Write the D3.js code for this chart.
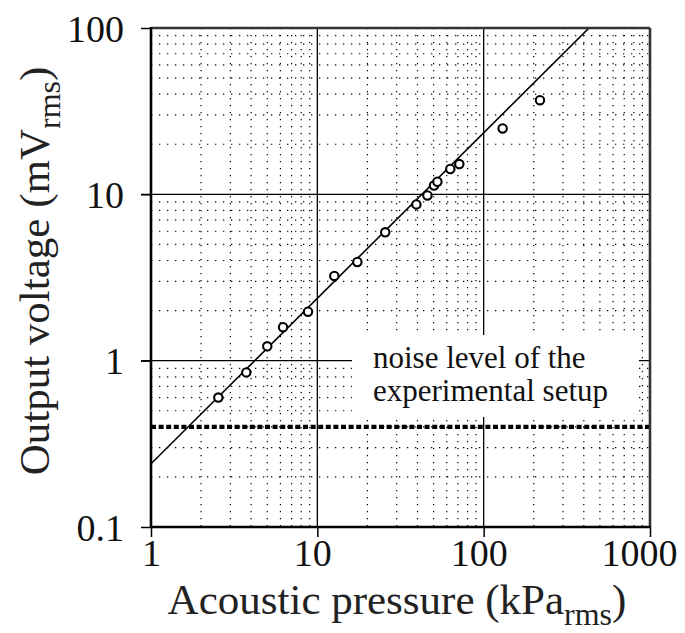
<!DOCTYPE html>
<html>
<head>
<meta charset="utf-8">
<script src="https://cdn.jsdelivr.net/npm/d3@7"></script>
<style>
  html, body { margin: 0; padding: 0; background: #fff; }
  svg { display: block; }
</style>
</head>
<body>
<svg id="chart" width="685" height="633"></svg>
<script>
// ---- data ----
const pressure = [2.54, 3.74, 5.0, 6.22, 8.79, 12.65, 17.4, 25.6, 39.4, 45.9, 50.3, 52.7, 63.0, 71.4, 130, 218];
const voltage  = [0.60, 0.85, 1.22, 1.59, 1.97, 3.23, 3.92, 5.91, 8.7, 9.85, 11.3, 11.9, 14.2, 15.2, 24.9, 36.8];
const fitPressure = [1, 430];
const fitVoltage  = [0.24, 100];
const noiseLevel = 0.4;
const xTickValues = [1, 10, 100, 1000];
const xTickLabels = ["1", "10", "100", "1000"];
const yTickValues = [0.1, 1, 10, 100];
const yTickLabels = ["0.1", "1", "10", "100"];
const noiseText = ["noise level of the", "experimental setup"];

const FONT = '"Liberation Serif"';

// ---- layout ----
const L = 151, R = 650, T = 28, B = 527;
const svg = d3.select("#chart");
const x = d3.scaleLog().domain([1, 1000]).range([L, R]);
const y = d3.scaleLog().domain([0.1, 100]).range([B, T]);

svg.append("defs").append("clipPath").attr("id", "plotclip")
  .append("rect").attr("x", L).attr("y", T).attr("width", R - L).attr("height", B - T);

const isMajor = v => Math.abs(Math.log10(v) - Math.round(Math.log10(v))) < 1e-9;
const xMinor = x.ticks().filter(v => !isMajor(v));
const yMinor = y.ticks().filter(v => !isMajor(v));

const grid = svg.append("g");
// minor dotted grid
grid.selectAll(".xm").data(xMinor).join("line")
  .attr("x1", d => x(d)).attr("x2", d => x(d)).attr("y1", T).attr("y2", B)
  .attr("stroke", "#000").attr("stroke-width", 1.2).attr("stroke-dasharray", "1.3,5.7");
grid.selectAll(".ym").data(yMinor).join("line")
  .attr("y1", d => y(d)).attr("y2", d => y(d)).attr("x1", L).attr("x2", R)
  .attr("stroke", "#000").attr("stroke-width", 1.2).attr("stroke-dasharray", "1.3,6.7");
// major solid grid (inner)
grid.selectAll(".xM").data(xTickValues.slice(1, -1)).join("line")
  .attr("x1", d => x(d)).attr("x2", d => x(d)).attr("y1", T).attr("y2", B)
  .attr("stroke", "#000").attr("stroke-width", 1.3);
grid.selectAll(".yM").data(yTickValues.slice(1, -1)).join("line")
  .attr("y1", d => y(d)).attr("y2", d => y(d)).attr("x1", L - 10).attr("x2", R)
  .attr("stroke", "#000").attr("stroke-width", 1.3);

// noise label box
const box = svg.append("g");
box.append("rect").attr("x", 352).attr("y", 335).attr("width", 287).attr("height", 82).attr("fill", "#fff");
box.selectAll("text").data(noiseText).join("text")
  .attr("x", 373).attr("y", (d, i) => 368 + i * 33)
  .style("font-family", FONT).attr("font-size", 31).attr("fill", "#111").text(d => d);

// noise level line
svg.append("line")
  .attr("x1", L).attr("x2", R).attr("y1", y(noiseLevel)).attr("y2", y(noiseLevel))
  .attr("stroke", "#000").attr("stroke-width", 4.2).attr("stroke-dasharray", "5,2.6");

// fit line
svg.append("g").attr("clip-path", "url(#plotclip)").append("path")
  .datum(fitPressure.map((p, i) => [p, fitVoltage[i]]))
  .attr("d", d3.line().x(d => x(d[0])).y(d => y(d[1])))
  .attr("fill", "none").attr("stroke", "#000").attr("stroke-width", 1.6);

// data points
svg.append("g").selectAll("circle").data(pressure.map((p, i) => [p, voltage[i]])).join("circle")
  .attr("cx", d => x(d[0])).attr("cy", d => y(d[1])).attr("r", 4.2)
  .attr("fill", "#fff").attr("stroke", "#000").attr("stroke-width", 2.1);

// frame
svg.append("line").attr("x1", L).attr("x2", R).attr("y1", T).attr("y2", T).attr("stroke", "#333").attr("stroke-width", 2.6);
svg.append("line").attr("x1", R).attr("x2", R).attr("y1", T).attr("y2", B).attr("stroke", "#333").attr("stroke-width", 2.6);
svg.append("line").attr("x1", L).attr("x2", R + 1).attr("y1", B).attr("y2", B).attr("stroke", "#000").attr("stroke-width", 2.6);
svg.append("line").attr("x1", L).attr("x2", L).attr("y1", T - 1).attr("y2", B).attr("stroke", "#000").attr("stroke-width", 2.6);

// axes with outer ticks
const xAxis = d3.axisBottom(x).tickValues(xTickValues).tickSize(10)
  .tickFormat((d, i) => xTickLabels[i]);
const gx = svg.append("g").attr("transform", `translate(0,${B})`).call(xAxis);
gx.attr("font-family", null);
gx.select(".domain").remove();
gx.selectAll(".tick line").attr("stroke", "#000").attr("stroke-width", 1.5);
gx.selectAll(".tick text").style("font-family", FONT).attr("font-size", 38)
  .attr("fill", "#111").attr("y", 12).attr("dy", "0.71em")
  .attr("dx", (d, i) => i === 0 ? 0 : (i === xTickValues.length - 1 ? -11 : -5));

const yAxis = d3.axisLeft(y).tickValues(yTickValues).tickSize(10)
  .tickFormat((d, i) => yTickLabels[i]);
const gy = svg.append("g").attr("transform", `translate(${L},0)`).call(yAxis);
gy.attr("font-family", null);
gy.select(".domain").remove();
gy.selectAll(".tick line").attr("stroke", "#000").attr("stroke-width", 1.5);
gy.selectAll(".tick text").style("font-family", FONT).attr("font-size", 38)
  .attr("fill", "#111").attr("x", -27).attr("dy", "0.35em");

// axis titles
const xt = svg.append("text").attr("x", 397).attr("y", 614).attr("text-anchor", "middle")
  .style("font-family", FONT).attr("font-size", 43).attr("fill", "#222");
xt.append("tspan").text("Acoustic pressure (kPa");
xt.append("tspan").attr("font-size", 32).attr("dy", 11).text("rms");
xt.append("tspan").attr("dy", -11).text(")");

const yt = svg.append("text").attr("transform", "translate(49,271) rotate(-90)")
  .attr("text-anchor", "middle").style("font-family", FONT).attr("font-size", 43).attr("fill", "#222");
yt.append("tspan").text("Output voltage (mV");
yt.append("tspan").attr("font-size", 32).attr("dy", 11).text("rms");
yt.append("tspan").attr("dy", -11).text(")");
</script>
</body>
</html>
